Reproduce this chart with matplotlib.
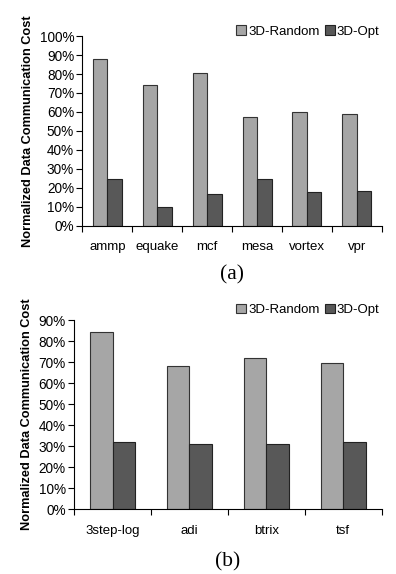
import numpy as np
import matplotlib
matplotlib.use("Agg")
import matplotlib.pyplot as plt
from matplotlib.ticker import FixedLocator, PercentFormatter

plt.rcParams["font.family"] = ["Liberation Sans", "DejaVu Sans"]

bench_a = ["ammp", "equake", "mcf", "mesa", "vortex", "vpr"]
random_a = [88.2, 74.0, 80.3, 57.1, 59.7, 58.8]
opt_a = [24.5, 9.8, 16.6, 24.4, 17.8, 18.4]

bench_b = ["3step-log", "adi", "btrix", "tsf"]
random_b = [84.2, 68.0, 71.8, 69.5]
opt_b = [31.9, 31.0, 31.0, 32.1]

C_RANDOM = "#a6a6a6"
C_OPT = "#585858"
W = 0.29


def draw(ax, names, rnd, opt, ymax, caption, leg_y, cap_y):
    x = np.arange(len(names))
    ax.bar(x - W / 2, rnd, W, color=C_RANDOM, edgecolor="#333333", linewidth=0.8, label="3D-Random")
    ax.bar(x + W / 2, opt, W, color=C_OPT, edgecolor="#222222", linewidth=0.8, label="3D-Opt")
    ax.set_xlim(-0.5, len(names) - 0.5)
    ax.set_ylim(0, ymax)
    ax.set_yticks(np.arange(0, ymax + 1, 10))
    ax.yaxis.set_major_formatter(PercentFormatter(decimals=0))
    ax.xaxis.set_major_locator(FixedLocator(np.arange(len(names) + 1) - 0.5))
    ax.xaxis.set_major_formatter(plt.NullFormatter())
    ax.xaxis.set_minor_locator(FixedLocator(x))
    ax.set_xticklabels(names, minor=True)
    ax.tick_params(axis="x", which="major", direction="out", length=4, width=0.8)
    ax.tick_params(axis="x", which="minor", length=0, pad=11, labelsize=9.5)
    ax.tick_params(axis="y", direction="out", length=4, width=0.8, labelsize=9.8, pad=2)
    for s in ["top", "right"]:
        ax.spines[s].set_visible(False)
    ax.spines["left"].set_linewidth(0.8)
    ax.spines["bottom"].set_linewidth(0.8)
    ax.set_ylabel("Normalized Data Communication Cost", fontsize=9.2, fontweight="bold", labelpad=4)
    ax.legend(loc="center right", bbox_to_anchor=(1.01, leg_y), ncol=2, frameon=False,
              fontsize=9.5, handlelength=0.75, handleheight=0.75, handletextpad=0.15,
              columnspacing=0.4, borderaxespad=0)
    ax.text(0.5, cap_y, caption, transform=ax.transAxes, ha="center", va="center",
            fontsize=15.5, family=["Liberation Serif", "DejaVu Serif"])


fig = plt.figure(figsize=(3.96, 5.74), dpi=100)
ax1 = fig.add_axes([0.2083, 0.607, 0.964 - 0.2083, 0.937 - 0.607])
ax2 = fig.add_axes([0.187, 0.1127, 0.964 - 0.187, 0.4425 - 0.1127])
draw(ax1, bench_a, random_a, opt_a, 100, "(a)", 1.025, -0.261)
draw(ax2, bench_b, random_b, opt_b, 90, "(b)", 1.053, -0.277)
fig.savefig("out.png", dpi=100)
